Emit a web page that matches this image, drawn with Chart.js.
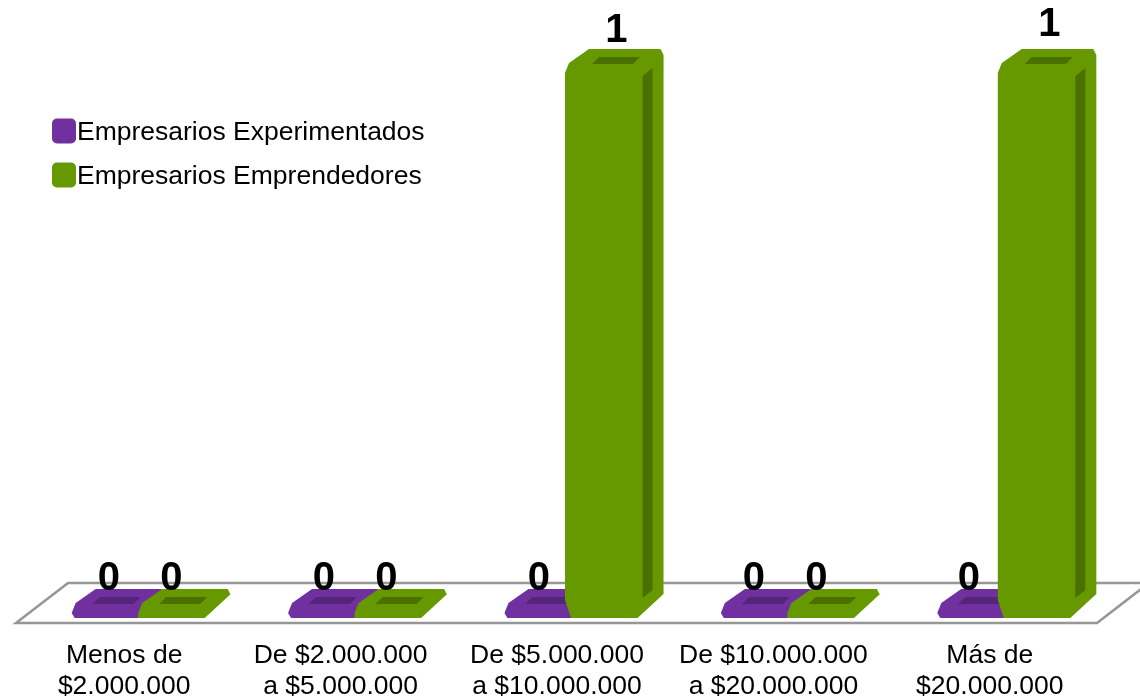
<!DOCTYPE html>
<html><head><meta charset="utf-8">
<style>html,body{margin:0;padding:0;background:#fff}canvas{display:block}</style>
<script src="https://cdn.jsdelivr.net/npm/chart.js@4"></script></head>
<body><canvas id="c" width="1140" height="700"></canvas>
<script>
const categories = [["Menos de","$2.000.000"],["De $2.000.000","a $5.000.000"],["De $5.000.000","a $10.000.000"],["De $10.000.000","a $20.000.000"],["Más de","$20.000.000"]];
const experimentados = [0,0,0,0,0];
const emprendedores = [0,0,1,0,1];
const FONT = '"Liberation Sans", Arial, sans-serif';
const DARK = {"#7030A0":"#55257A","#669900":"#4A7000"};

function poly(ctx, pts, fill){
  ctx.beginPath();
  pts.forEach((p,i)=> i?ctx.lineTo(p[0],p[1]):ctx.moveTo(p[0],p[1]));
  ctx.closePath();
  ctx.fillStyle=fill; ctx.fill();
}
const scene = {
  id:'scene',
  beforeDatasetsDraw(chart){
    const {ctx,chartArea:a}=chart;
    ctx.save();
    ctx.strokeStyle='#969696'; ctx.lineWidth=2.5; ctx.lineJoin='miter';
    ctx.beginPath();
    ctx.moveTo(a.left-14,a.bottom+5); ctx.lineTo(a.left+38,a.bottom-35);
    ctx.lineTo(a.right-15+52,a.bottom-35); ctx.lineTo(a.right-15,a.bottom+5);
    ctx.closePath(); ctx.stroke();
    ctx.restore();
  },
  afterDatasetsDraw(chart){
    const ctx=chart.ctx, n=chart.data.labels.length;
    ctx.save();
    for(let i=0;i<n;i++){
      chart.data.datasets.forEach((ds,d)=>{
        const el=chart.getDatasetMeta(d).data[i], col=ds.backgroundColor, dark=DARK[col];
        const l=el.x-el.width/2, r=el.x+el.width/2, base=el.base;
        const tall=base-el.y>8, ft=Math.min(el.y,base-8), b=tall?6:0;
        const first=tall?[l,base]:[l+(d?0:3),base];
        poly(ctx,[first,[l-b,base-(tall?18:5)],[l-b,ft+3],[l-b+4,ft-7],[l-b+24,ft-21],
                  [r+23,ft-21],[r+26,ft-15],[r+26,base-24],[r,base]],col);
        poly(ctx,[[l+21,ft-6],[l+28,ft-13],[l+69,ft-13],[l+62,ft-6]],dark);
        if(tall) poly(ctx,[[r+5,ft+6],[r+15,ft-2],[r+15,base-28],[r+5,base-20]],dark);
      });
    }
    ctx.fillStyle='#000'; ctx.font='bold 40px '+FONT; ctx.textAlign='center'; ctx.textBaseline='middle';
    for(let i=0;i<n;i++){
      chart.data.datasets.forEach((ds,d)=>{
        const el=chart.getDatasetMeta(d).data[i], v=ds.data[i];
        const lx=el.x+4-1.4*i-(d?4:0)+v*(12+i*1.5);
        const ly=el.y-39-v*(3*i-5.5);
        ctx.fillText(String(v),lx,ly);
      });
    }
    // legend
    ctx.font='26.5px '+FONT; ctx.textAlign='left';
    chart.data.datasets.forEach((ds,d)=>{
      const y=131+44*d;
      ctx.beginPath(); ctx.roundRect(52,y-12.5,24,25,5); ctx.fillStyle=ds.backgroundColor; ctx.fill();
      ctx.fillStyle='#000'; ctx.fillText(ds.label,77,y+2);
    });
    ctx.restore();
  }
};
new Chart(document.getElementById('c'),{
  type:'bar',
  data:{labels:categories,datasets:[
    {label:'Empresarios Experimentados',data:experimentados,backgroundColor:'#7030A0'},
    {label:'Empresarios Emprendedores',data:emprendedores,backgroundColor:'#669900'}
  ]},
  options:{
    responsive:false,animation:false,
    layout:{padding:{left:30,right:28,top:70,bottom:-16}},
    datasets:{bar:{categoryPercentage:0.615,barPercentage:1,borderWidth:0}},
    plugins:{legend:{display:false},tooltip:{enabled:false}},
    scales:{
      x:{grid:{display:false},border:{display:false},
         ticks:{color:'#000',font:{family:FONT,size:26.5,lineHeight:1.17},padding:14,labelOffset:-14,maxRotation:0,autoSkip:false}},
      y:{display:false,min:0,max:1}
    }
  },
  plugins:[scene]
});
</script></body></html>
